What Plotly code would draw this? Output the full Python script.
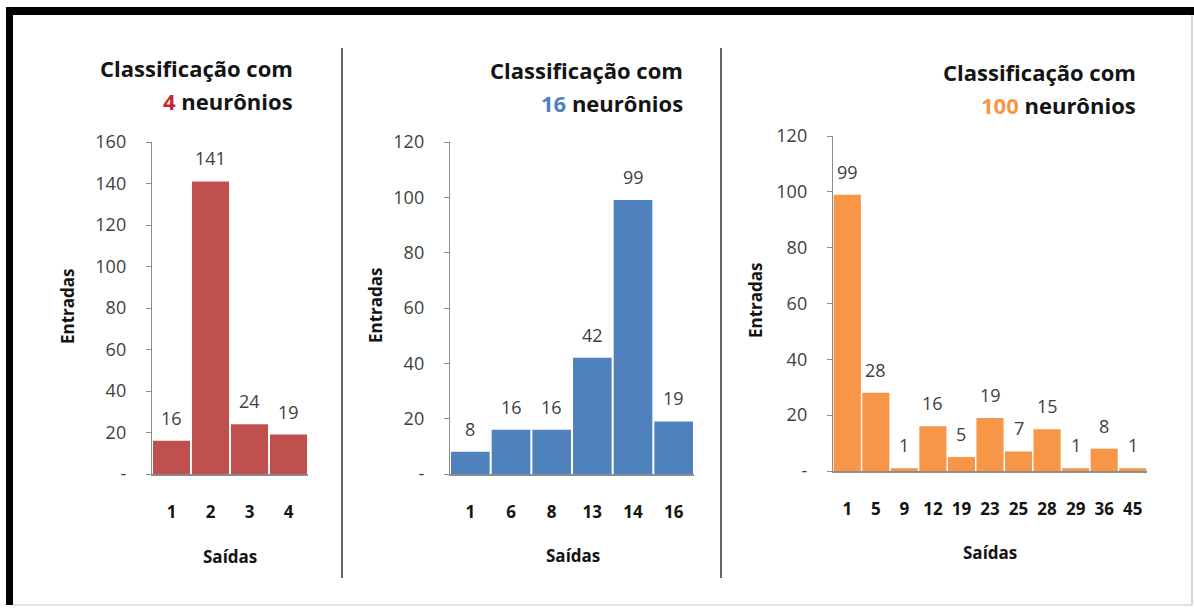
import plotly.graph_objects as go

W, H = 1194, 609

# ---- data ----
cats_4 = ["1", "2", "3", "4"]
vals_4 = [16, 141, 24, 19]

cats_16 = ["1", "6", "8", "13", "14", "16"]
vals_16 = [8, 16, 16, 42, 99, 19]

cats_100 = ["1", "5", "9", "12", "19", "23", "25", "28", "29", "36", "45"]
vals_100 = [99, 28, 1, 16, 5, 19, 7, 15, 1, 8, 1]

yticks_4 = [0, 20, 40, 60, 80, 100, 120, 140, 160]
yticks_120 = [0, 20, 40, 60, 80, 100, 120]

RED = "#C0504D"
BLUE = "#4F81BD"
ORANGE = "#F79646"
FONT = "Open Sans"
TXT = "#404040"
DARK = "#141414"


def fx(px):
    return px / W


def fy(py):
    return 1 - py / H


fig = go.Figure()

panels = [
    (cats_4, vals_4, RED, 152, 308, 142, 474, 160, yticks_4),
    (cats_16, vals_16, BLUE, 450, 694, 142, 474, 120, yticks_120),
    (cats_100, vals_100, ORANGE, 833, 1147, 136, 471, 120, yticks_120),
]

layout = dict(
    width=W, height=H, autosize=False,
    margin=dict(l=0, r=0, t=0, b=0, pad=0, autoexpand=False),
    paper_bgcolor="white", plot_bgcolor="rgba(0,0,0,0)",
    showlegend=False,
    bargap=0.05,
    font=dict(family=FONT, color=TXT),
)

ann = []
for i, (cats, vals, col, x0, x1, yt, yb, ymax, yt_vals) in enumerate(panels):
    n = "" if i == 0 else str(i + 1)
    fig.add_trace(go.Bar(
        x=cats, y=vals, marker=dict(color=col, line=dict(width=0)),
        xaxis="x" + n, yaxis="y" + n,
    ))
    # value labels above the bars (category index positions)
    for j, v in enumerate(vals):
        ann.append(dict(x=j, y=v, xref="x" + n, yref="y" + n,
                        xanchor="center", yanchor="middle", yshift=23,
                        showarrow=False, text=str(v),
                        font=dict(family=FONT, size=18, color=TXT)))
    layout["xaxis" + n] = dict(
        domain=[fx(x0), fx(x1)], anchor="y" + n,
        type="category", categoryorder="array", categoryarray=cats,
        range=[-0.5, len(cats) - 0.5], automargin=False,
        showline=True, linecolor="#8C8C8C", linewidth=1.5,
        ticks="", showgrid=False, zeroline=False,
        tickfont=dict(family=FONT, size=17, color=DARK, weight="bold"),
        ticklabelstandoff=22,
        fixedrange=True,
    )
    layout["yaxis" + n] = dict(
        domain=[fy(yb), fy(yt)], anchor="x" + n,
        range=[0, ymax], automargin=False,
        tickvals=yt_vals,
        ticktext=["-"] + [str(v) for v in yt_vals[1:]],
        showline=True, linecolor="#8C8C8C", linewidth=1.2,
        ticks="outside", ticklen=5, tickcolor="#8C8C8C",
        showgrid=False, zeroline=False,
        tickfont=dict(family=FONT, size=18, color=TXT),
        ticklabelstandoff=16,
        fixedrange=True,
    )

fig.update_layout(**layout)

titles = [
    (295, 68, 101, "4", "#C3282D"),
    (685, 70, 103, "16", BLUE),
    (1138, 72, 105, "100", ORANGE),
]
for xr, y1, y2, num, col in titles:
    ann.append(dict(x=fx(xr), y=fy(y1), xref="paper", yref="paper",
                    xanchor="right", yanchor="middle", showarrow=False,
                    text="<b>Classificação com</b>",
                    font=dict(family=FONT, size=22, color=DARK)))
    ann.append(dict(x=fx(xr), y=fy(y2), xref="paper", yref="paper",
                    xanchor="right", yanchor="middle", showarrow=False,
                    text=f"<b><span style='color:{col}'>{num}</span> neurônios</b>",
                    font=dict(family=FONT, size=22, color=DARK)))

for x, y in [(67, 306), (375, 305), (755, 300)]:
    ann.append(dict(x=fx(x), y=fy(y), xref="paper", yref="paper",
                    xanchor="center", yanchor="middle", showarrow=False,
                    textangle=-90, text="<b>Entradas</b>",
                    font=dict(family=FONT, size=17, color=DARK)))
for x, y in [(230, 556), (573, 555), (990, 552)]:
    ann.append(dict(x=fx(x), y=fy(y), xref="paper", yref="paper",
                    xanchor="center", yanchor="middle", showarrow=False,
                    text="<b>Saídas</b>",
                    font=dict(family=FONT, size=17, color=DARK)))
fig.update_layout(annotations=ann)

shapes = [
    dict(type="rect", xref="paper", yref="paper", x0=fx(6), x1=1, y0=fy(15), y1=fy(7),
         fillcolor="black", line=dict(width=0), layer="above"),
    dict(type="rect", xref="paper", yref="paper", x0=fx(6), x1=fx(13), y0=fy(605), y1=fy(7),
         fillcolor="black", line=dict(width=0), layer="above"),
    dict(type="line", xref="paper", yref="paper", x0=fx(13), x1=fx(1192), y0=fy(605), y1=fy(605),
         line=dict(color="#D8D8D8", width=1.5)),
    dict(type="line", xref="paper", yref="paper", x0=fx(1192), x1=fx(1192), y0=fy(605), y1=fy(15),
         line=dict(color="#C8C8C8", width=1.5)),
    dict(type="line", xref="paper", yref="paper", x0=fx(342), x1=fx(342), y0=fy(578), y1=fy(48),
         line=dict(color="#333333", width=1.5)),
    dict(type="line", xref="paper", yref="paper", x0=fx(721), x1=fx(721), y0=fy(578), y1=fy(48),
         line=dict(color="#333333", width=1.5)),
]
fig.update_layout(shapes=shapes)

post = """
var h=document.documentElement, b=document.body;
h.style.margin='0'; h.style.padding='0'; h.style.overflow='hidden';
b.style.margin='0'; b.style.padding='0'; b.style.overflow='hidden';
var g=document.getElementById('{plot_id}');
g.style.position='fixed'; g.style.top='0px'; g.style.left='0px';
"""

fig.write_html(
    "out.html",
    config={"displayModeBar": False, "staticPlot": True},
    post_script=post,
)
